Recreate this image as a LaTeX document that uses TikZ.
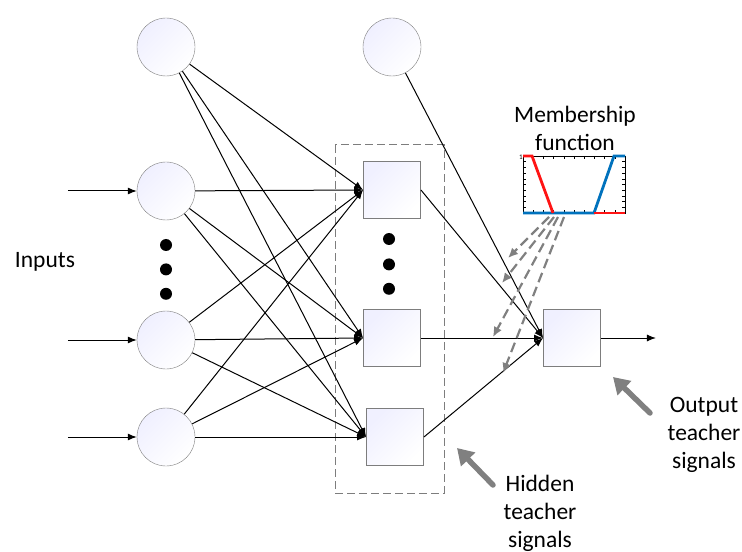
\documentclass[tikz,border=0pt]{standalone}
\usepackage{fontspec}
\setmainfont{Carlito}
\usetikzlibrary{arrows.meta,positioning}

\definecolor{mfred}{RGB}{255,20,20}
\definecolor{mfblue}{RGB}{0,114,189}
\definecolor{rim}{RGB}{125,125,125}

\tikzset{
  neuron/.style={circle, draw=rim, minimum size=58bp, inner sep=0pt,
    top color=blue!6!white, bottom color=white, shading angle=45},
  unit/.style={rectangle, draw=rim, minimum size=57bp, inner sep=0pt, line width=0.9bp,
    top color=blue!6!white, bottom color=white, shading angle=45},
  dot/.style={circle, fill=black, minimum size=12bp, inner sep=0pt},
  link/.style={-{Latex[length=9bp,width=7bp]}, line width=1bp},
  teach/.style={gray, line width=2.2bp, dash pattern=on 10bp off 5bp, -{Latex[length=10bp,width=9bp]}},
  hint/.style={gray, line width=5.5bp, line cap=round, -{Triangle[length=16bp,width=19bp]}},
  txt/.style={font=\fontsize{23.5bp}{28bp}\selectfont, align=center, inner sep=0pt},
}

\begin{document}
\begin{tikzpicture}[x=1bp, y=-1bp]
\useasboundingbox (0,0) rectangle (742,552);

% input layer
\node (b1) [neuron] at (166,47) {};
\node (x1) [neuron] at (166,191) {};
\node (x2) [neuron] at (166,340) {};
\node (x3) [neuron] at (166,437) {};
\node (d1) [dot] at (166,245) {};
\node (d2) [dot, below=12bp of d1] {};
\node (d3) [dot, below=12bp of d2] {};
\node (inp) [txt] at (45,262) {Inputs};
\foreach \n in {x1,x2,x3} {
  \coordinate [left=69bp of \n] (in-\n);
  \draw[link] (in-\n) -- (\n);
}

% hidden layer
\draw[rim, line width=1bp, dash pattern=on 8bp off 4bp] (335,145) rectangle (444,493);
\node (b2) [neuron] at (392,47) {};
\node (h1) [unit] at (392,190) {};
\node (h2) [unit] at (392,338) {};
\node (h3) [unit] at (395,437) {};
\node (e1) [dot] at (389,239) {};
\node (e2) [dot, below=13bp of e1] {};
\node (e3) [dot, below=12bp of e2] {};

% output layer
\node (y) [unit] at (572,338) {};
\coordinate [right=55bp of y] (out);

\foreach \s in {b1,x1,x2,x3}
  \foreach \t in {h1,h2,h3}
    \draw[link] (\s) -- (\t.west);
\draw[link] (b2) -- (y.west);
\foreach \s in {h1,h2,h3}
  \draw[link] (\s.east) -- (y.west);
\draw[link] (y.east) -- (out);

% membership function
\node (mf) [txt] at (575,128) {Membership\\function};
\draw[line width=0.5bp] (523,156) rectangle (625,213);
\foreach \k in {1,...,9} {
  \draw[line width=0.5bp] (523,156+5.7*\k) -- +(3,0);
  \draw[line width=0.5bp] (625,156+5.7*\k) -- +(-3,0);
  \draw[line width=0.5bp] (523+10.2*\k,156) -- +(0,3);
  \draw[line width=0.5bp] (523+10.2*\k,213) -- +(0,-3);
}
\node[font=\fontsize{7bp}{7bp}\selectfont, inner sep=0pt] at (521,157) {1};
\draw[mfblue, line width=2.8bp] (523,213) -- (594,213) -- (614,156) -- (625,156);
\draw[mfred, line width=2.8bp] (523,156) -- (532,156) -- (553,213);
\draw[mfred, line width=2.8bp] (594,213) -- (625,213);

% teacher signals
\coordinate (m1) at (549,217); \coordinate (t1) at (508,258);
\coordinate (m2) at (554,217); \coordinate (t2) at (502,283);
\coordinate (m3) at (558,217); \coordinate (t3) at (493,337);
\coordinate (m4) at (564,217); \coordinate (t4) at (503,373);
\foreach \i in {1,...,4}
  \draw[teach] (m\i) -- (t\i);

\node (ots) [txt] at (704,435) {Output\\teacher\\signals};
\node (hts) [txt] at (540,513) {Hidden\\teacher\\signals};
\coordinate (oa) at (650,413); \coordinate (ob) at (613,377);
\coordinate (ha) at (493,485); \coordinate (hb) at (457,448);
\draw[hint] (oa) -- (ob);
\draw[hint] (ha) -- (hb);
\end{tikzpicture}
\end{document}
